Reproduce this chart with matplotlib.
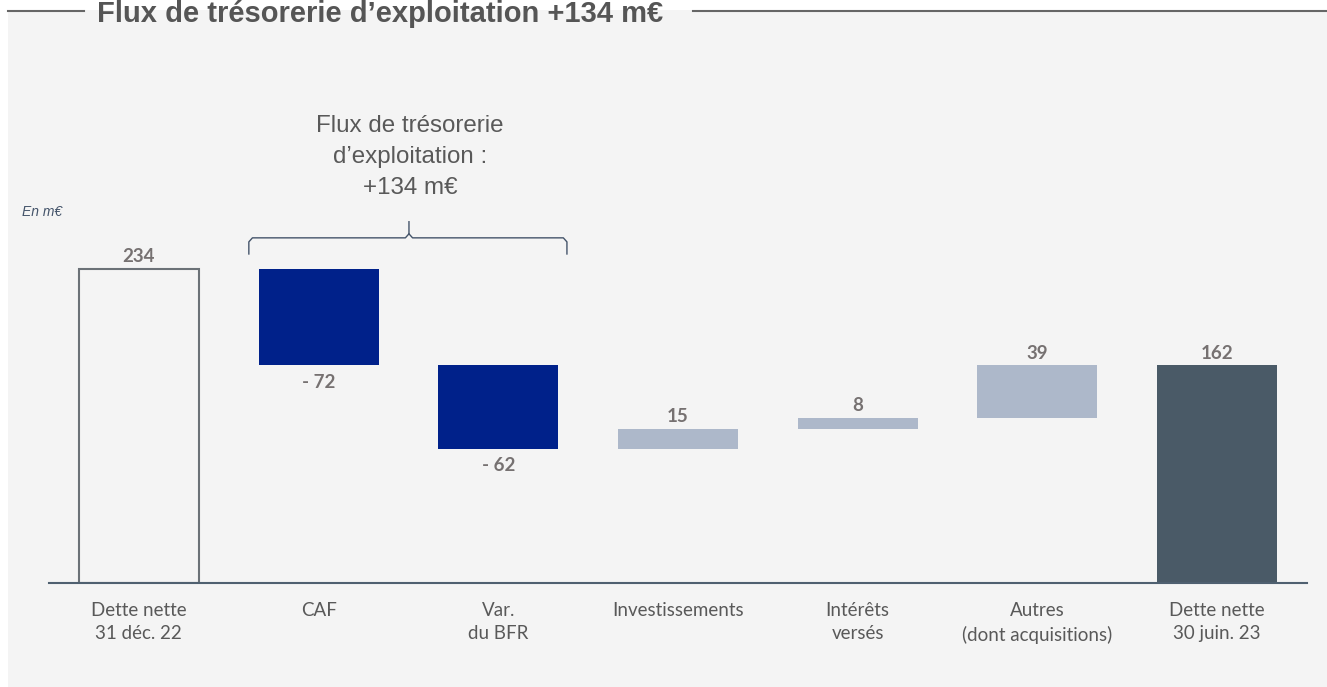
import matplotlib.pyplot as plt
import matplotlib.patches as mpatches
from matplotlib.lines import Line2D
import numpy as np

# Données du pont de dette nette (en m€)
categories = ["Dette nette\n31 déc. 22", "CAF", "Var.\ndu BFR", "Investissements",
              "Intérêts\nversés", "Autres\n(dont acquisitions)", "Dette nette\n30 juin. 23"]
values = [234, -72, -62, 15, 8, 39, 162]
labels = ["234", "- 72", "- 62", "15", "8", "39", "162"]
kinds = ["total_open", "neg", "neg", "pos", "pos", "pos", "total"]

W, H = 1327, 687
BG = "#f4f4f4"
NAVY = "#00218a"
LIGHT = "#adb8ca"
DARK = "#4a5a67"
TXT = "#595959"
VAL = "#767171"

fig = plt.figure(figsize=(W / 100, H / 100), dpi=100, facecolor="white")

# fond gris
fig.patches.append(mpatches.Rectangle((8 / W, 0), 1, (H - 10) / H, transform=fig.transFigure,
                                      facecolor=BG, edgecolor="none", zorder=-10))

# axes : baseline à y=583 px, 1.343 px par m€
base_px = 583
scale = 1.343
ymax = 300
ax = fig.add_axes([49 / W, (H - base_px) / H, (1307 - 49) / W, ymax * scale / H])
ax.set_facecolor("none")
ax.set_xlim(-0.5, 6.5)
ax.set_ylim(0, ymax)
ax.axis("off")

# calcul des bas et hauts du waterfall
bottoms, heights = [], []
running = 0
for v, k in zip(values, kinds):
    if k.startswith("total"):
        bottoms.append(0)
        heights.append(v)
        running = v
    else:
        new = running + v
        bottoms.append(min(running, new))
        heights.append(abs(v))
        running = new

x = np.arange(len(categories))
for i, k in enumerate(kinds):
    if k == "total_open":
        ax.bar(x[i], heights[i], bottom=bottoms[i], width=0.667, facecolor="none",
               edgecolor="#6b7177", linewidth=1.5, zorder=3)
    else:
        col = {"neg": NAVY, "pos": LIGHT, "total": DARK}[k]
        ax.bar(x[i], heights[i], bottom=bottoms[i], width=0.667, color=col, zorder=3)

# étiquettes de valeurs
for i, k in enumerate(kinds):
    top = bottoms[i] + heights[i]
    if k == "neg":
        ax.annotate(labels[i], (x[i], bottoms[i]), xytext=(0, -17), textcoords="offset pixels",
                    ha="center", va="center", fontsize=13.5, fontweight="bold", color=VAL,
                    family="Lato")
    else:
        ax.annotate(labels[i], (x[i], top), xytext=(0, 12), textcoords="offset pixels",
                    ha="center", va="center", fontsize=13.5, fontweight="bold", color=VAL,
                    family="Lato")

# ligne de base
ax.plot([-0.5, 6.5], [0, 0], color="#4f6070", linewidth=1.5, clip_on=False, zorder=4)

# libellés des catégories
for i, c in enumerate(categories):
    ax.annotate(c, (x[i], 0), xytext=(0, -19), textcoords="offset pixels", ha="center",
                va="top", fontsize=13.5, color=TXT, family="Lato", linespacing=1.45)

# accolade au-dessus de CAF et BFR
bx0, bx1, bxm = 0.612, 2.382, 1.503
by, by_end, by_tip = 257, 245, 269
r = 0.04
bc = "#44546a"
ax.plot([bx0, bx0, bx0 + r * 0.5, bxm - r * 0.5, bxm, bxm],
        [by_end, by - 3, by, by, by + 3, by_tip], color=bc, lw=1, clip_on=False)
ax.plot([bx1, bx1, bx1 - r * 0.5, bxm + r * 0.5, bxm],
        [by_end, by - 3, by, by, by + 3], color=bc, lw=1, clip_on=False)

# texte d'annotation
fig.text(410 / W, 1 - 157 / H, "Flux de trésorerie\nd’exploitation :\n+134 m€",
         ha="center", va="center", fontsize=17.4, color=TXT, family="Liberation Sans",
         linespacing=1.5)

fig.text(22 / W, 1 - 212 / H, "En m€", ha="left", va="center", fontsize=10,
         style="italic", color="#44546a", family="Liberation Sans")

# titre avec filets
fig.text(380 / W, 1 - 22 / H, "Flux de trésorerie d’exploitation +134 m€", ha="center",
         va="baseline", fontsize=21, fontweight="bold", color="#555555", family="Liberation Sans")
fig.lines.append(Line2D([8 / W, 84 / W], [1 - 11 / H] * 2, transform=fig.transFigure,
                        color="#666666", lw=1.5))
fig.lines.append(Line2D([693 / W, 1], [1 - 11 / H] * 2, transform=fig.transFigure,
                        color="#666666", lw=1.5))

fig.savefig("out.png", dpi=100, facecolor=fig.get_facecolor())
